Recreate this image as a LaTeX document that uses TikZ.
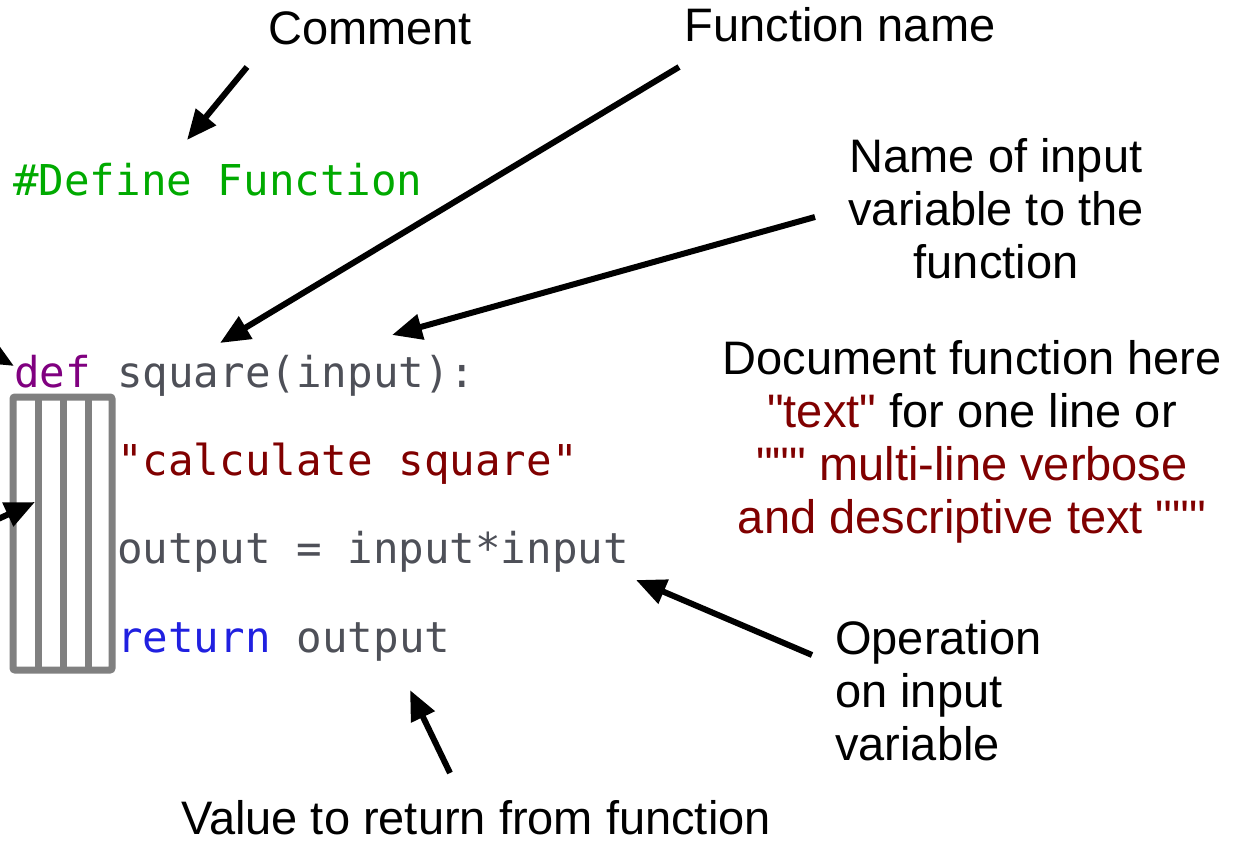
\documentclass[tikz,border=0pt]{standalone}
\usepackage{fontspec}
\setmainfont{Liberation Sans}[Ligatures=TeXOff]
\newfontfamily\codefont{DejaVu Sans Mono}
\usetikzlibrary{arrows.meta}

\definecolor{cmtgreen}{RGB}{0,170,0}
\definecolor{kwpurple}{RGB}{128,0,128}
\definecolor{codegray}{RGB}{78,80,88}
\definecolor{strred}{RGB}{128,0,0}
\definecolor{kwblue}{RGB}{32,32,224}
\definecolor{guidegray}{RGB}{128,128,128}

\tikzset{
  label/.style={inner sep=0pt, font=\fontsize{47}{53}\selectfont, text=black},
  code/.style={inner sep=0pt, anchor=base west, font=\codefont\fontsize{42.5}{50}\selectfont, text=codegray},
  pointer/.style={line width=6pt, -{Triangle[length=30pt, width=25pt]}},
  guide/.style={draw=guidegray, line width=7pt, rounded corners=2pt}
}

\begin{document}
\begin{tikzpicture}[x=1pt, y=-1pt]
  \useasboundingbox (0,0) rectangle (1241,842);

  % source code lines
  \node[code, text=cmtgreen] (cmt) at (13,196) {\#Define Function};
  \node[code, text=kwpurple] (def) at (14,387) {def};
  \node[code] (sig) at (117,387) {square(input):};
  \node[code, text=strred] (doc) at (117,475) {"calculate square"};
  \node[code] (op) at (117,563) {output = input*input};
  \node[code, text=kwblue] (ret) at (117,652) {return};
  \node[code, anchor=base west] (retval) at (ret.base east) {\ output};

  % indentation guide: box split into four columns
  \draw[guide] (13,397) rectangle (112,670);
  \foreach \gx in {38,63,88} \draw[guide] (\gx,397) -- (\gx,670);

  % annotation labels (multi-line nodes are placed by their last baseline)
  \node[label, anchor=base] (lcomment) at (370,45) {Comment};
  \node[label, anchor=base] (lfname) at (840,42) {Function name};
  \node[label, anchor=base, align=center] (linput) at (996,278)
    {Name of input\\variable to the\\function};
  \node[label, anchor=base, align=center] (ldoc) at (972,533)
    {Document function here\\
     \textcolor{strred}{"text"} for one line or\\
     \textcolor{strred}{""" multi-line verbose}\\
     \textcolor{strred}{and descriptive text """}};
  \node[label, anchor=base west, align=left] (lop) at (835,760)
    {Operation\\on input\\variable};
  \node[label, anchor=base] (lret) at (476,834) {Value to return from function};

  % arrow end points
  \coordinate (aCs) at (247,67);   \coordinate (aCt) at (187,140);
  \coordinate (aFs) at (679,67);   \coordinate (aFt) at (220,343);
  \coordinate (aIs) at (815,217);  \coordinate (aIt) at (392,335);
  \coordinate (aOs) at (812,655);  \coordinate (aOt) at (636,580);
  \coordinate (aRs) at (450,773);  \coordinate (aRt) at (410,690);
  \coordinate (aBs) at (-30,532);  \coordinate (aBt) at (35,502);
  \coordinate (aDs) at (-40,335);  \coordinate (aDt) at (14,366);

  \draw[pointer] (aCs) -- (aCt);
  \draw[pointer] (aFs) -- (aFt);
  \draw[pointer] (aIs) -- (aIt);
  \draw[pointer] (aOs) -- (aOt);
  \draw[pointer] (aRs) -- (aRt);
  \draw[pointer] (aBs) -- (aBt);
  \draw[pointer] (aDs) -- (aDt);
\end{tikzpicture}
\end{document}
